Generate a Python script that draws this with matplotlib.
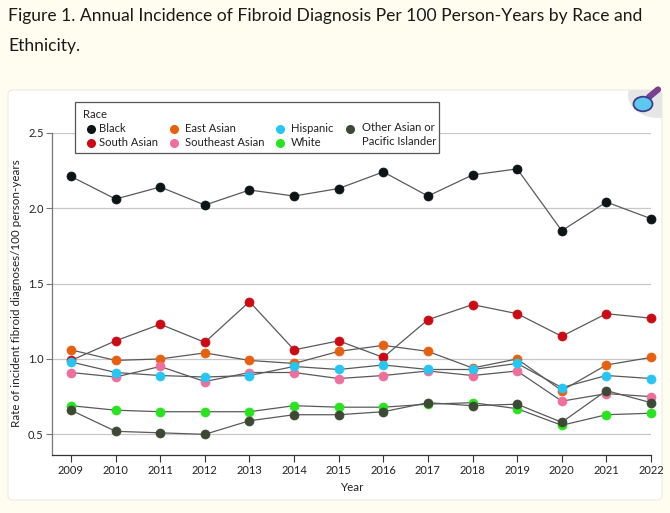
import matplotlib
matplotlib.use("Agg")
import matplotlib.pyplot as plt
from matplotlib.patches import FancyBboxPatch, Circle, Rectangle
from matplotlib.lines import Line2D

years = list(range(2009, 2023))
black = [2.21, 2.06, 2.14, 2.02, 2.12, 2.08, 2.13, 2.24, 2.08, 2.22, 2.26, 1.85, 2.04, 1.93]
south_asian = [0.99, 1.12, 1.23, 1.11, 1.38, 1.06, 1.12, 1.01, 1.26, 1.36, 1.30, 1.15, 1.30, 1.27]
east_asian = [1.06, 0.99, 1.00, 1.04, 0.99, 0.97, 1.05, 1.09, 1.05, 0.94, 1.00, 0.79, 0.96, 1.01]
southeast_asian = [0.91, 0.88, 0.95, 0.85, 0.91, 0.91, 0.87, 0.89, 0.92, 0.89, 0.92, 0.72, 0.77, 0.75]
hispanic = [0.98, 0.91, 0.89, 0.88, 0.89, 0.95, 0.93, 0.96, 0.93, 0.93, 0.97, 0.81, 0.89, 0.87]
white = [0.69, 0.66, 0.65, 0.65, 0.65, 0.69, 0.68, 0.68, 0.70, 0.71, 0.67, 0.56, 0.63, 0.64]
other_api = [0.66, 0.52, 0.51, 0.50, 0.59, 0.63, 0.63, 0.65, 0.71, 0.69, 0.70, 0.58, 0.79, 0.71]

series_names = ["Black", "South Asian", "East Asian", "Southeast Asian", "Hispanic", "White",
                "Other Asian or\nPacific Islander"]
series_vals = [black, south_asian, east_asian, southeast_asian, hispanic, white, other_api]
colors = ["#0b1515", "#cc0a14", "#e8600e", "#ee6f9c", "#26c6f4", "#27e41f", "#3c4a33"]

y_ticks = [0.5, 1.0, 1.5, 2.0, 2.5]

W, H = 670, 513
FONT = "Lato"
plt.rcParams["font.family"] = [FONT, "DejaVu Sans"]

fig = plt.figure(figsize=(W / 100, H / 100), dpi=100)
fig.patch.set_facecolor("#fffdf0")

def fx(px):
    return px / W

def fy(py):
    return 1 - py / H

# Title (fit to reference width)
t1 = fig.text(fx(8), fy(16), "Figure 1. Annual Incidence of Fibroid Diagnosis Per 100 Person-Years by Race and",
              fontsize=13.2, color="#1a1a1a", va="center", ha="left")
renderer = fig.canvas.get_renderer()
w1 = t1.get_window_extent(renderer).width
fs_title = 13.2 * 636.0 / w1
t1.set_fontsize(fs_title)
fig.text(fx(8), fy(46), "Ethnicity.", fontsize=fs_title, color="#1a1a1a", va="center", ha="left")

# Card
card = FancyBboxPatch((fx(8), fy(500)), fx(662) - fx(8), fy(90) - fy(500),
                      boxstyle="round,pad=0,rounding_size=0.008", transform=fig.transFigure,
                      facecolor="white", edgecolor="#ecebe4", linewidth=0.8, zorder=0)
fig.add_artist(card)

# Icon
bg = Circle((fx(658), fy(95)), 30 / W, transform=fig.transFigure, facecolor="#e6e6e6",
            edgecolor="none", zorder=1)
fig.add_artist(bg)
bg.set_clip_path(card)
fig.add_artist(Line2D([fx(649), fx(658)], [fy(97), fy(89.5)], transform=fig.transFigure,
                      color="#7a3f8e", linewidth=4.5, solid_capstyle="round", zorder=2))
fig.add_artist(Circle((fx(643), fy(104)), 9.5 / W, transform=fig.transFigure,
                      facecolor="#5ec8ef", edgecolor="#3c3f8a", linewidth=1.3, zorder=3))

# Axes
ax = fig.add_axes([fx(52), fy(455), fx(651) - fx(52), fy(132.7) - fy(455)])
ax.set_facecolor("none")
ax.set_xlim(2008.574, 2022)
ax.set_ylim(0.363, 2.5)

for vals, c in zip(series_vals, colors):
    ax.plot(years, vals, color="#5a5a5a", linewidth=0.9, zorder=3, clip_on=False)
for vals, c in zip(series_vals, colors):
    ax.plot(years, vals, linestyle="none", marker="o", markersize=6.5, markerfacecolor=c,
            markeredgecolor=c, markeredgewidth=0.5, zorder=4, clip_on=False)

ax.set_yticks(y_ticks)
ax.set_yticklabels([f"{t:.1f}" for t in y_ticks])
ax.set_xticks(years)
ax.set_xticklabels([str(y) for y in years])
ax.yaxis.grid(True, color="#c8c8c8", linewidth=0.9)
ax.set_axisbelow(True)
for s in ["top", "right"]:
    ax.spines[s].set_visible(False)
ax.spines["left"].set_color("#777777")
ax.spines["bottom"].set_color("#333333")
ax.spines["left"].set_linewidth(0.9)
ax.spines["bottom"].set_linewidth(0.9)
ax.tick_params(axis="y", length=4, width=0.8, color="#777777", labelsize=8.0, labelcolor="#222222", pad=2)
ax.tick_params(axis="x", length=5, width=0.8, color="#333333", labelsize=8.0, labelcolor="#222222", pad=2.5)
ax.set_xlabel("Year", fontsize=8.4, color="#222222", labelpad=4)
fig.text(fx(17), fy(293), "Rate of incident fibroid diagnoses/100 person-years", rotation=90,
         fontsize=8.4, color="#222222", ha="center", va="center")

# Legend (manual)
lg = Rectangle((fx(75), fy(153)), fx(439) - fx(75), fy(102) - fy(153), transform=fig.transFigure,
               facecolor="white", edgecolor="#555555", linewidth=0.9, zorder=5)
fig.add_artist(lg)
fig.text(fx(83), fy(114), "Race", fontsize=8.1, color="#222222", ha="left", va="center", zorder=6)
col_mx = [91, 91, 174, 174, 280, 280, 350]
col_tx = [99, 99, 185, 185, 291, 291, 362]
row_y = [129, 143, 129, 143, 129, 143, 129]
for name, c, mx, tx, ry in zip(series_names, colors, col_mx, col_tx, row_y):
    fig.add_artist(Line2D([fx(mx)], [fy(ry)], transform=fig.transFigure, marker="o",
                          markersize=5.5, color=c, linestyle="none", zorder=6))
    if "\n" in name:
        fig.text(fx(tx), fy(ry - 7), name, fontsize=8.1, color="#222222", ha="left", va="top",
                 linespacing=1.3, zorder=6)
    else:
        fig.text(fx(tx), fy(ry), name, fontsize=8.1, color="#222222", ha="left", va="center", zorder=6)

fig.savefig("out.png", dpi=100, facecolor=fig.get_facecolor())
